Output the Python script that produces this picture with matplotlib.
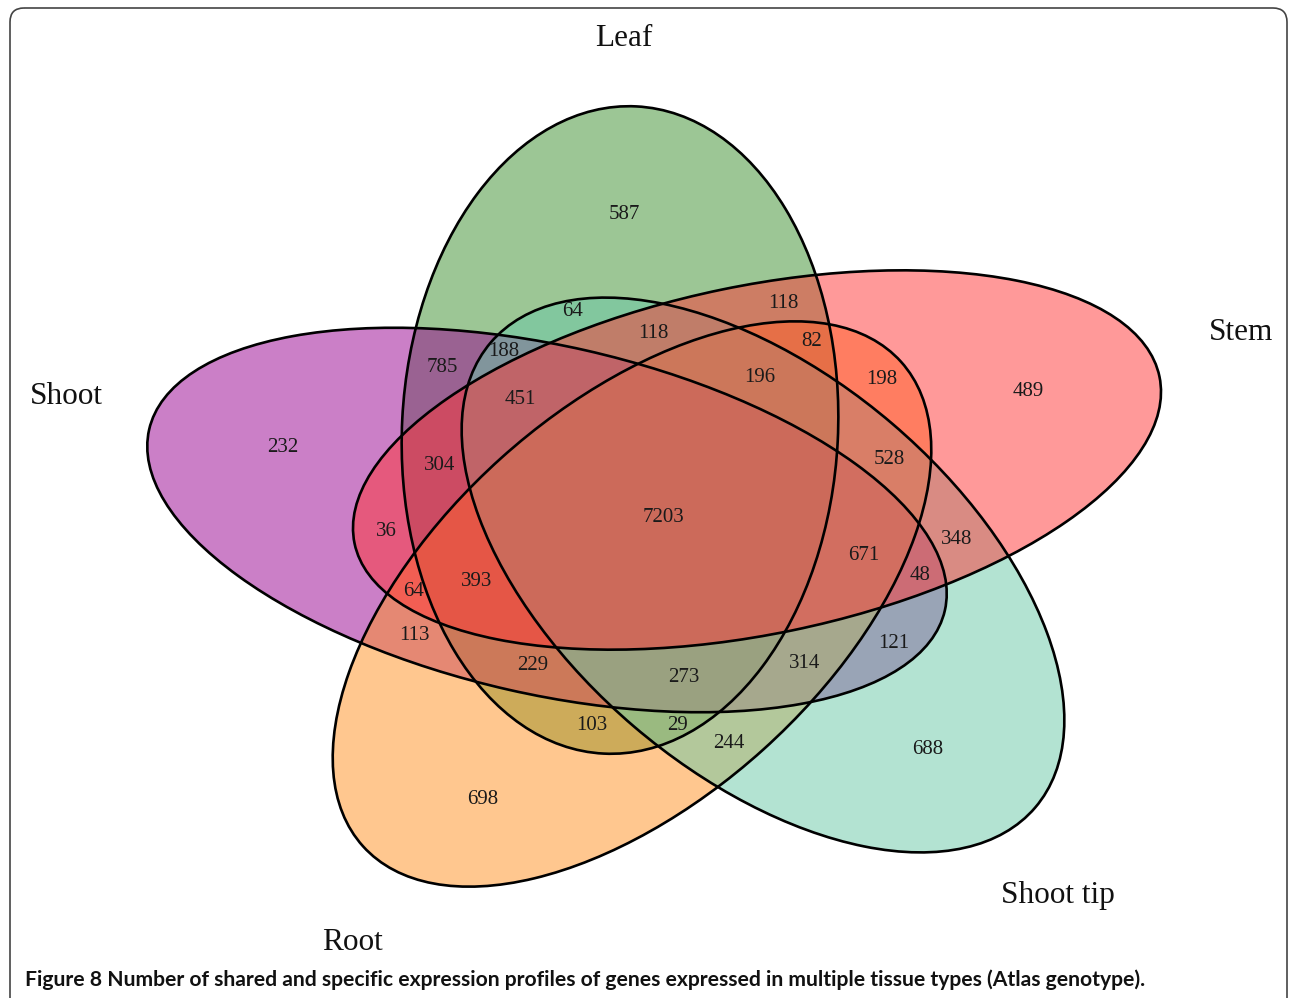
import matplotlib.pyplot as plt
from matplotlib.patches import Ellipse, FancyBboxPatch

# set names, drawing order matters for the blended overlap colours
sets = ["Leaf", "Shoot", "Root", "Shoot tip", "Stem"]
set_colors = ["#3b8f2d", "#990091", "#ff9121", "#69c9a7", "#ff3535"]

# region counts
counts = [587, 64, 118, 118, 82, 785, 188, 196, 198, 489,
          232, 451, 304, 528, 36, 7203, 348, 671, 48, 64,
          393, 113, 121, 229, 273, 314, 103, 29, 244, 688, 698]

# label positions for each region, in pixels
count_pos = [(624, 214), (573, 311), (783, 303), (653, 334), (812, 342),
             (442, 367), (504, 352), (760, 377), (882, 380), (1028, 391),
             (283, 447), (520, 400), (440, 466), (889, 460), (386, 532),
             (664, 518), (957, 539), (864, 556), (920, 575), (414, 592),
             (477, 581), (414, 635), (894, 644), (533, 665), (684, 678),
             (805, 664), (592, 725), (678, 725), (729, 743), (928, 750),
             (483, 799)]

# ellipse geometry: centre x, centre y, semi-major, semi-minor, angle
ellipses = {
    "Leaf": (620, 430, 324, 218, 92.9),
    "Shoot": (547, 520, 408, 174, 12.8),
    "Root": (632, 604, 362, 196, -42.0),
    "Shoot tip": (763, 575, 358, 199, 40.5),
    "Stem": (757, 460, 411, 174, -11.7),
}

name_pos = {
    "Leaf": (624, 38),
    "Shoot": (66, 396),
    "Stem": (1241, 332),
    "Shoot tip": (1058, 895),
    "Root": (352, 943),
}

W, H = 1290, 998
fig = plt.figure(figsize=(W / 100, H / 100), dpi=100)
ax = fig.add_axes([0, 0, 1, 1])
ax.set_xlim(0, W)
ax.set_ylim(H, 0)
ax.axis("off")

serif = ["Liberation Serif", "DejaVu Serif"]

# outer frame
frame = FancyBboxPatch((10, 8), 1277, 1020,
                       boxstyle="round,pad=0,rounding_size=14",
                       facecolor="none", edgecolor="#444444", linewidth=1.2)
ax.add_patch(frame)

for name, color in zip(sets, set_colors):
    cx, cy, a, b, ang = ellipses[name]
    ax.add_patch(Ellipse((cx, cy), 2 * a, 2 * b, angle=ang,
                         facecolor=color, alpha=0.5, edgecolor="none"))

for name in sets:
    cx, cy, a, b, ang = ellipses[name]
    ax.add_patch(Ellipse((cx, cy), 2 * a, 2 * b, angle=ang,
                         facecolor="none", edgecolor="black", linewidth=1.9))

for n, (x, y) in zip(counts, count_pos):
    ax.text(x, y, str(n), ha="center", va="center", fontsize=15,
            family=serif, color="#1a1a1a")

for name, (x, y) in name_pos.items():
    ax.text(x, y, name, ha="center", va="center", fontsize=22.5,
            family=serif, color="#111111")

ax.text(25, 980, "Figure 8 Number of shared and specific expression profiles "
        "of genes expressed in multiple tissue types (Atlas genotype).",
        ha="left", va="center", fontsize=15.2, fontweight="bold",
        family=["Lato", "DejaVu Sans"], color="#111111")

fig.savefig("out.png", dpi=100)
